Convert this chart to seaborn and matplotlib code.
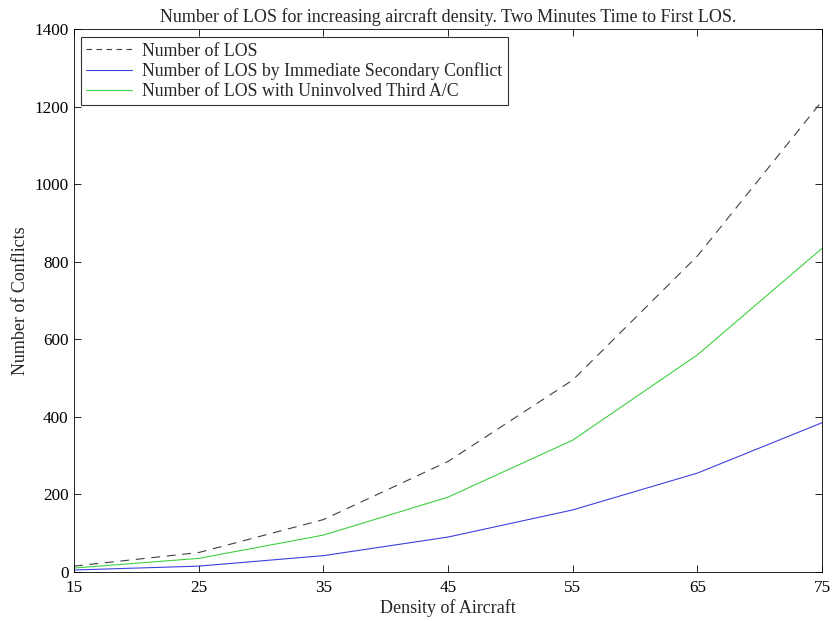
import matplotlib
matplotlib.use("Agg")
import matplotlib.pyplot as plt
import seaborn as sns
import pandas as pd

density = [15, 25, 35, 45, 55, 65, 75]
num_los = [15, 50, 135, 285, 495, 815, 1215]
num_secondary = [5, 15, 42, 90, 160, 255, 385]
num_third = [10, 35, 95, 193, 340, 560, 835]

sns.set_theme(style="white")
plt.rcParams['font.family'] = ['Liberation Serif', 'DejaVu Serif']
plt.rcParams['mathtext.fontset'] = 'stix'

fig = plt.figure(figsize=(8.35, 6.21), dpi=100)
ax = fig.add_axes([0.0886, 0.079, 0.896, 0.874])

df = pd.DataFrame({"x": density, "los": num_los, "sec": num_secondary, "third": num_third})
sns.lineplot(data=df, x="x", y="los", ax=ax, color="#404040", lw=0.8,
             label="Number of LOS")
sns.lineplot(data=df, x="x", y="sec", ax=ax, color="#4040e0", lw=0.8,
             label="Number of LOS by Immediate Secondary Conflict")
sns.lineplot(data=df, x="x", y="third", ax=ax, color="#40d040", lw=0.8,
             label="Number of LOS with Uninvolved Third A/C")
ax.lines[0].set_linestyle((0, (8, 6)))

ax.set_xlim(15, 75)
ax.set_ylim(0, 1400)
ax.set_xticks(density)
ax.set_yticks(range(0, 1401, 200))
ax.tick_params(direction="in", length=5, width=0.6, labelsize=12.3, colors="black",
               top=True, right=True, bottom=True, left=True)
ax.tick_params(axis="x", pad=6)
ax.tick_params(axis="y", pad=4)
for s in ax.spines.values():
    s.set_visible(True)
    s.set_color("black")
    s.set_linewidth(0.6)
ax.set_xlabel("Density of Aircraft", fontsize=13, labelpad=2)
ax.set_ylabel("Number of Conflicts", fontsize=13, labelpad=4)
ax.set_title("Number of LOS for increasing aircraft density. Two Minutes Time to First LOS.",
             fontsize=13, pad=5)
leg = ax.legend(loc="upper left", fontsize=12.8, frameon=True, fancybox=False,
                bbox_to_anchor=(0.009, 0.985), borderaxespad=0.0,
                handlelength=2.6, labelspacing=0.15,
                borderpad=0.3, handletextpad=0.55)
leg.get_frame().set_edgecolor("black")
leg.get_frame().set_linewidth(0.8)
leg.legend_handles[0].set_linestyle((0, (5, 4)))
fig.savefig("out.png", dpi=100)
